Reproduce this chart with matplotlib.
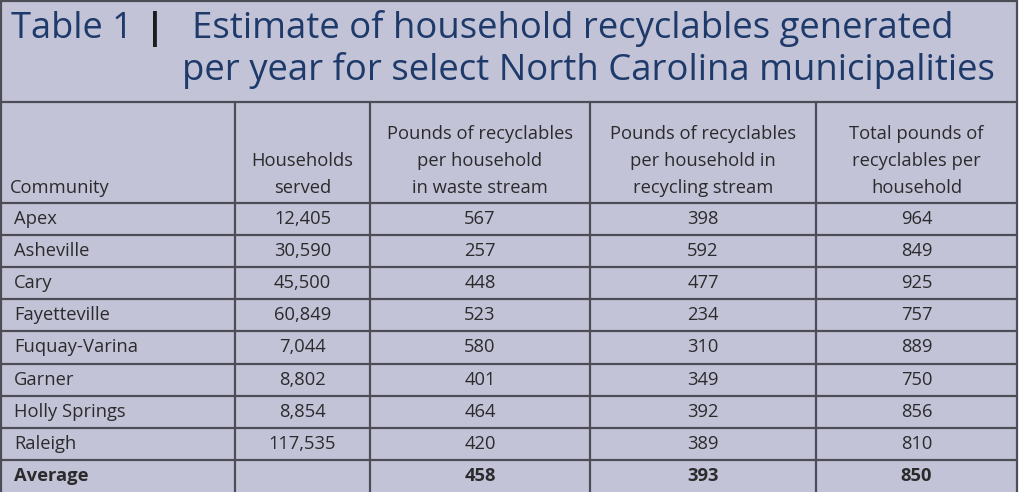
import matplotlib.pyplot as plt

plt.rcParams["font.family"] = ["Open Sans", "DejaVu Sans"]

TITLE_LEFT = "Table 1"
TITLE_BAR = "|"
TITLE_LINES = [
    "Estimate of household recyclables generated",
    "per year for select North Carolina municipalities",
]

HEADERS = [
    "Community",
    "Households\nserved",
    "Pounds of recyclables\nper household\nin waste stream",
    "Pounds of recyclables\nper household in\nrecycling stream",
    "Total pounds of\nrecyclables per\nhousehold",
]

communities = ["Apex", "Asheville", "Cary", "Fayetteville", "Fuquay-Varina",
               "Garner", "Holly Springs", "Raleigh"]
households = ["12,405", "30,590", "45,500", "60,849", "7,044", "8,802", "8,854", "117,535"]
waste_stream = [567, 257, 448, 523, 580, 401, 464, 420]
recycling_stream = [398, 592, 477, 234, 310, 349, 392, 389]
total_pounds = [964, 849, 925, 757, 889, 750, 856, 810]

average_row = ["Average", "", "458", "393", "850"]

# layout in pixels
W, H = 1024, 492
COL_EDGES = [1, 235, 370, 590, 816, 1017]
TITLE_BOTTOM = 101.5
HEADER_BOTTOM = 203
ROW_H = 32.1

BG = "#c3c3d7"
LINE = "#4d4d57"
NAVY = "#1e3a6a"
TEXT = "#2b2b2e"
FS = 13.2


def main():
    fig = plt.figure(figsize=(W / 100, H / 100), dpi=100)
    ax = fig.add_axes([0, 0, 1, 1])
    ax.set_xlim(0, W)
    ax.set_ylim(H, 0)
    ax.axis("off")

    ax.add_patch(plt.Rectangle((COL_EDGES[0], 0), COL_EDGES[-1] - COL_EDGES[0], H,
                               facecolor=BG, edgecolor="none"))

    # title
    ax.text(11, 38, TITLE_LEFT, fontsize=26, color=NAVY, va="baseline", ha="left")
    ax.text(155, 38, TITLE_BAR, fontsize=26, color="#1c1c22", va="baseline",
            ha="center", fontweight="bold")
    ax.text(192, 38, TITLE_LINES[0], fontsize=26.3, color=NAVY, va="baseline", ha="left")
    ax.text(182, 80, TITLE_LINES[1], fontsize=26.3, color=NAVY, va="baseline", ha="left")

    rows = []
    for i in range(len(communities)):
        rows.append([communities[i], households[i], str(waste_stream[i]),
                     str(recycling_stream[i]), str(total_pounds[i])])
    rows.append(average_row)

    # header
    for j, label in enumerate(HEADERS):
        if j == 0:
            ax.text(10, HEADER_BOTTOM - 10, label, fontsize=FS, color=TEXT,
                    ha="left", va="baseline")
        else:
            cx = (COL_EDGES[j] + COL_EDGES[j + 1]) / 2
            ax.text(cx, HEADER_BOTTOM - 10, label, fontsize=FS, color=TEXT,
                    ha="center", va="baseline", multialignment="center",
                    linespacing=1.66)

    # body
    for i, row in enumerate(rows):
        yc = HEADER_BOTTOM + ROW_H * i + ROW_H / 2
        weight = "bold" if i == len(rows) - 1 else "normal"
        for j, val in enumerate(row):
            if j == 0:
                ax.text(14, yc, val, fontsize=FS, color=TEXT, ha="left",
                        va="center", fontweight=weight)
            else:
                cx = (COL_EDGES[j] + COL_EDGES[j + 1]) / 2
                ax.text(cx, yc, val, fontsize=FS, color=TEXT, ha="center",
                        va="center", fontweight=weight)

    # grid lines
    ax.hlines([1, TITLE_BOTTOM], COL_EDGES[0], COL_EDGES[-1], color=LINE, lw=1.6)
    for i in range(len(rows)):
        ax.hlines(HEADER_BOTTOM + ROW_H * i, COL_EDGES[0], COL_EDGES[-1],
                  color=LINE, lw=1.6)
    ax.vlines([COL_EDGES[0], COL_EDGES[-1]], 0, H, color=LINE, lw=1.6)
    ax.vlines(COL_EDGES[1:-1], TITLE_BOTTOM, H, color=LINE, lw=1.6)

    fig.savefig("out.png", dpi=100, facecolor="white")
    plt.close(fig)


if __name__ == "__main__":
    main()
